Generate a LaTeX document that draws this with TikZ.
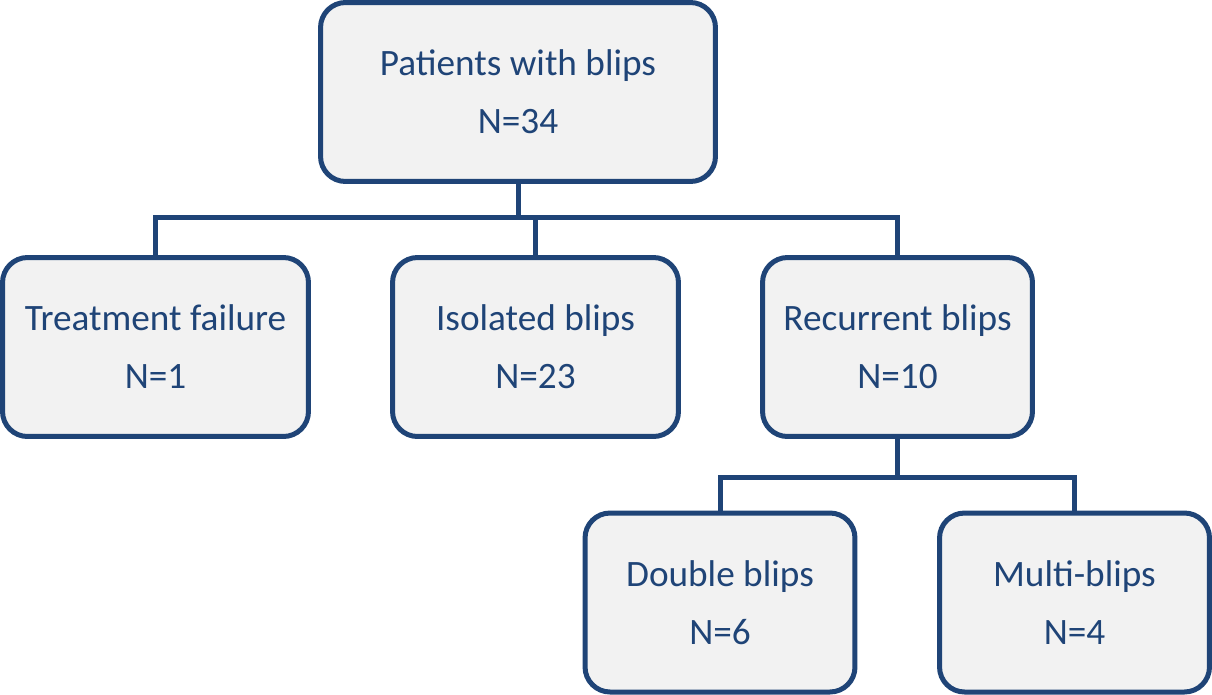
\documentclass[tikz,border=0pt]{standalone}
\usepackage{fontspec}
\setmainfont{Carlito}
\usetikzlibrary{positioning}
\definecolor{boxblue}{HTML}{1F4477}
\definecolor{boxgray}{HTML}{F2F2F2}

\begin{document}
\begin{tikzpicture}[x=0.02cm,y=-0.02cm,font=\fontsize{21.2}{33}\selectfont]
\tikzstyle{box}=[draw=boxblue,fill=boxgray,line width=0.1cm,rounded corners=0.5cm,align=center,text=boxblue,inner sep=0pt]
\tikzstyle{big box}=[box,minimum width=7.9cm,minimum height=3.58cm]
\tikzstyle{mid box}=[box,minimum width=6.12cm,minimum height=3.58cm]
\tikzstyle{small box}=[box,minimum width=5.4cm,minimum height=3.58cm]
\tikzstyle{link}=[draw=boxblue,line width=0.1cm]
\useasboundingbox (0,0) rectangle (1212,694);
\node(root)[big box] at (518,92){Patients with blips\\N=34};
\node(fail)[mid box] at (155.5,347){Treatment failure\\N=1};
\node(iso)[box,minimum width=5.72cm,minimum height=3.58cm] at (535.5,347){Isolated blips\\N=23};
\node(recur)[small box] at (897.5,347){Recurrent blips\\N=10};
\node(double)[small box] at (720,602.5){Double blips\\N=6};
\node(multi)[small box] at (1074.5,602.5){Multi-blips\\N=4};
% first split
\coordinate(join1) at (518,217);
\draw[link] (root.south) -- (join1);
\draw[link] (fail.north) |- (join1) -| (recur.north);
\draw[link] (iso.north) -- (iso.north |- join1);
% second split
\coordinate(join2) at (897.5,477);
\draw[link] (recur.south) -- (join2);
\draw[link] (double.north) |- (join2) -| (multi.north);
\end{tikzpicture}
\end{document}
